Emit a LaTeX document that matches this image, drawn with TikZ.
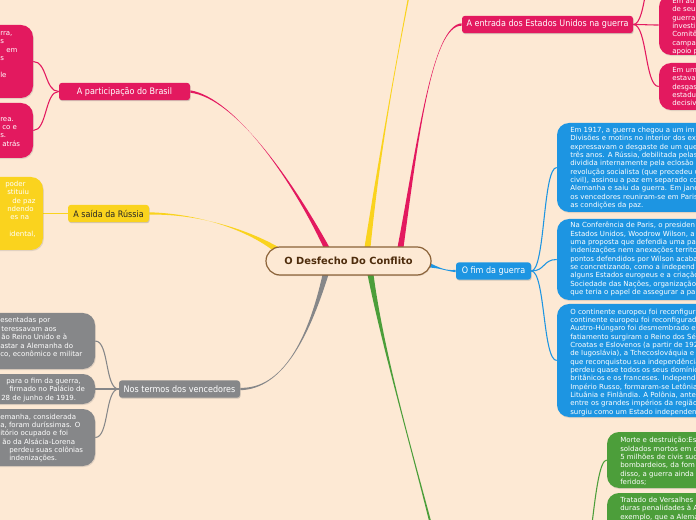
\documentclass[tikz,border=0pt]{standalone}
\usepackage{fontspec}
\setmainfont{DejaVu Sans}
\newfontfamily\condf{DejaVu Sans Condensed}
\usetikzlibrary{calc,fit,shadows}
\definecolor{bgc}{RGB}{253,233,212}
\definecolor{pinkc}{RGB}{227,25,95}
\definecolor{yelc}{RGB}{250,211,30}
\definecolor{bluec}{RGB}{29,149,226}
\definecolor{greenc}{RGB}{76,158,58}
\definecolor{grayc}{RGB}{134,135,137}
\definecolor{brownc}{RGB}{139,98,56}
\definecolor{rootc}{RGB}{78,44,12}
\pgfdeclarelayer{bgl}\pgfdeclarelayer{edges}\pgfsetlayers{bgl,edges,main}
\newcommand\branch[7]{%
 \fill[#1] ($(#2)+(#6)$) .. controls (#3) and (#4) .. ($(#5)+(#7)$) -- ($(#5)-(#7)$) .. controls (#4) and (#3) .. ($(#2)-(#6)$) -- cycle;}
\newcommand\fl{\rule{0pt}{4pt}}
\newcommand\hs[1]{\hspace*{#1\dimexpr0.75pt\relax}}
\tikzset{
 rootn/.style={draw=brownc, line width=0.9pt, fill=bgc, rounded corners=10.5pt, minimum width=123.75pt, minimum height=21pt, inner sep=0pt, text=rootc, font=\bfseries\fontsize{7.4}{9}\selectfont, drop shadow={shadow xshift=0.5pt,shadow yshift=-0.8pt,opacity=0.2}},
 mainn/.style={rounded corners=2.2pt, minimum height=13pt, inner sep=0pt, font=\condf\fontsize{6.7}{8}\selectfont, drop shadow={shadow xshift=0.5pt,shadow yshift=-0.8pt,opacity=0.35}},
 boxn/.style={rounded corners=9pt, inner sep=0pt, drop shadow={shadow xshift=0.6pt,shadow yshift=-0.8pt,opacity=0.22}},
 btxt/.style={anchor=north west, inner sep=0pt, align=left, text=white, font=\fontsize{5.25}{6.25}\selectfont},
 conn/.style={line width=0.8pt}
}
\begin{document}
\begin{tikzpicture}[x=0.75pt,y=-0.75pt]
\useasboundingbox (0,0) rectangle (696,520);
\begin{pgfonlayer}{bgl}
\fill[bgc] (0,0) rectangle (696,520);
\end{pgfonlayer}
\clip (0,0) rectangle (696,520);
% root and main nodes
\node[rootn] (root) at (348.5,261) {O Desfecho Do Conflito};
\node[mainn, fill=pinkc, text=white, minimum width=98.25pt] (brasil) at (124.5,91.5) {A participação do Brasil};
\node[mainn, fill=yelc, text=black!85, minimum width=60.75pt] (russia) at (108.5,213.5) {A saída da Rússia};
\node[mainn, fill=pinkc, text=white, minimum width=128.25pt] (usa) at (547.5,24.5) {A entrada dos Estados Unidos na guerra};
\node[mainn, fill=bluec, text=white, minimum width=56.25pt] (fim) at (493.5,271) {O fim da guerra};
\node[mainn, fill=grayc, text=white, minimum width=90.75pt] (termos) at (179.5,389) {Nos termos dos vencedores};
% boxes
\node[boxn, fill=pinkc, fit={(-150,25) (33,98)}] (bb1) {};
\node[boxn, fill=pinkc, fit={(-150,103) (33,158)}] (bb2) {};
\node[boxn, fill=yelc, fit={(-150,177) (43,250)}] (rb) {};
\node[boxn, fill=grayc, fit={(-150,313) (95,369)}] (gb1) {};
\node[boxn, fill=grayc, fit={(-150,374) (95,404)}] (gb2) {};
\node[boxn, fill=grayc, fit={(-150,409) (95,466)}] (gb3) {};
\node[boxn, fill=pinkc, fit={(659,-5) (850,55)}] (pa) {};
\node[boxn, fill=pinkc, fit={(659,63) (850,110)}] (pb) {};
\node[boxn, fill=bluec, fit={(557,123) (800,212)}] (bl1) {};
\node[boxn, fill=bluec, fit={(557,219) (800,300)}] (bl2) {};
\node[boxn, fill=bluec, fit={(557,304) (800,417)}] (bl3) {};
\node[boxn, fill=greenc, fit={(607,432) (800,488)}] (gr1) {};
\node[boxn, fill=greenc, fit={(607,493) (800,560)}] (gr2) {};
% box texts
\node[btxt] (tbb1) at (0,30) {\fl rra,\\s\\\hs{6}em\\s\\~\\le};
\node[btxt] (tbb2) at (0,107.3) {\fl~\\rea.\\\hs{2}co e\\s.\\\hs{2}atrás};
\node[btxt] (trb) at (0,181) {\fl\hs{5}poder\\\hs{7}stituiu\\\hs{12}de paz\\\hs{7}ndendo\\\hs{10}es na\\~\\\hs{9}idental,};
\node[btxt] (tgb1) at (0,317.4) {\fl esentadas por\\\hs{1}teressavam aos\\\hs{1}ão Reino Unido e à\\astar a Alemanha do\\co, econômico e militar};
\node[btxt] (tgb2) at (0,378) {\fl\hs{6}para o fim da guerra,\\\hs{9}firmado no Palácio de\\\hs{1}28 de junho de 1919.};
\node[btxt] (tgb3) at (0,413.7) {\fl emanha, considerada\\a, foram duríssimas. O\\itório ocupado e foi\\\hs{2}ão da Alsácia-Lorena\\\hs{9}perdeu suas colônias\\\hs{9}indenizações.};
\node[btxt] (tpa) at (672,-2.2) {\fl Em au\\de seu\\guerra\\investi\\Comitê\\campa\\apoio p};
\node[btxt] (tpb) at (672,67) {\fl Em um\\estava\\desgas\\estadu\\decisiv};
\node[btxt] (tbl1) at (570,127) {\fl Em 1917, a guerra chegou a um im\\Divisões e motins no interior dos ex\\expressavam o desgaste de um que\\três anos. A Rússia, debilitada pelas\\dividida internamente pela eclosão d\\revolução socialista (que precedeu u\\civil), assinou a paz em separado co\\Alemanha e saiu da guerra. Em jane\\os vencedores reuniram-se em Paris\\as condições da paz.};
\node[btxt] (tbl2) at (570,222) {\fl Na Conferência de Paris, o presiden\\Estados Unidos, Woodrow Wilson, a\\uma proposta que defendia uma pa\\indenizações nem anexações territo\\pontos defendidos por Wilson acaba\\se concretizando, como a independ\\alguns Estados europeus e a criação\\Sociedade das Nações, organização\\que teria o papel de assegurar a pa};
\node[btxt] (tbl3) at (570,308.7) {\fl O continente europeu foi reconfigura\\continente europeu foi reconfigurado\\Austro-Húngaro foi desmembrado e\\fatiamento surgiram o Reino dos Sé\\Croatas e Eslovenos (a partir de 192\\de Iugoslávia), a Tchecoslováquia e\\que reconquistou sua independência\\perdeu quase todos os seus domínio\\britânicos e os franceses. Independe\\Império Russo, formaram-se Letônia\\Lituânia e Finlândia. A Polônia, ante\\entre os grandes impérios da região\\surgiu como um Estado independen};
\node[btxt] (tgr1) at (620,437) {\fl Morte e destruição:Es\\soldados mortos em c\\5 milhões de civis suc\\bombardeios, da fom\\disso, a guerra ainda\\feridos;};
\node[btxt] (tgr2) at (620,497) {\fl Tratado de Versalhes\\duras penalidades à A\\exemplo, que a Alema};
% connectors
\begin{pgfonlayer}{edges}
\coordinate (sBr) at ($(root.north)+(-22,1)$);
\coordinate (sRu) at ($(root.west)+(12,-11)$);
\coordinate (sYu) at ($(root.north)+(19,1)$);
\coordinate (sUs) at ($(root.north)+(52,1)$);
\coordinate (sBl) at ($(root.east)+(-3,4)$);
\coordinate (sGr) at ($(root.south)+(22,-1)$);
\coordinate (sGy) at ($(root.south)+(-23,-1)$);
\coordinate (yup) at (416,-40);
\coordinate (gnode) at (440,560);
\coordinate (pup) at (659,-45);
\coordinate (gthin) at (577,590);
\branch{pinkc}{sBr}{292,180}{235,98}{brasil.east}{3,0}{0,1.2}
\branch{yelc}{sRu}{245,228}{195,213.5}{russia.east}{1.7,-2.5}{0,1.2}
\branch{yelc}{sYu}{380,150}{398,50}{yup}{3,0}{1,0}
\branch{pinkc}{sUs}{418,140}{432,25}{usa.west}{3,0}{0,1.2}
\branch{bluec}{sBl}{440,268}{446,271}{fim.west}{0,2.5}{0,1.2}
\branch{greenc}{sGr}{385,360}{415,460}{gnode}{3,0}{1.5,0}
\branch{grayc}{sGy}{308,340}{282,389}{termos.east}{3,0}{0,1.2}
\draw[conn,pinkc] (brasil.west) .. controls +(-14,0) and +(14,0) .. (bb1.east);
\draw[conn,pinkc] (brasil.west) .. controls +(-14,0) and +(14,0) .. (bb2.east);
\draw[conn,yelc] (russia.west) -- (rb.east);
\draw[conn,pinkc] (usa.east) .. controls +(14,0) and +(-14,0) .. (pup);
\draw[conn,pinkc] (usa.east) .. controls +(14,0) and +(-14,0) .. (pa.west);
\draw[conn,pinkc] (usa.east) .. controls +(14,0) and +(-14,0) .. (pb.west);
\draw[conn,bluec] (fim.east) .. controls +(14,0) and +(-14,0) .. (bl1.west);
\draw[conn,bluec] (fim.east) .. controls +(14,0) and +(-14,0) .. (bl2.west);
\draw[conn,bluec] (fim.east) .. controls +(14,0) and +(-14,0) .. (bl3.west);
\draw[conn,greenc] (gthin) .. controls +(14,0) and +(-14,0) .. (gr1.west);
\draw[conn,grayc] (termos.west) .. controls +(-14,0) and +(14,0) .. (gb1.east);
\draw[conn,grayc] (termos.west) -- (gb2.east);
\draw[conn,grayc] (termos.west) .. controls +(-14,0) and +(14,0) .. (gb3.east);
\end{pgfonlayer}
\end{tikzpicture}
\end{document}
